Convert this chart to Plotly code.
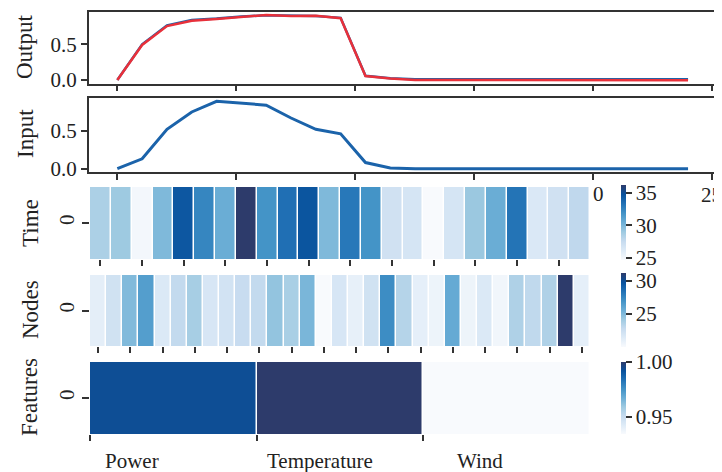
import plotly.graph_objects as go

# ---------------- data ----------------
step_x = [0.0, 1.043, 2.087, 3.13, 4.174, 5.217, 6.261, 7.304, 8.348, 9.391, 10.435, 11.478,
          12.522, 13.565, 14.609, 15.652, 16.696, 17.739, 18.783, 19.826, 20.87, 21.913, 22.957, 24.0]
output_blue = [0.0, 0.50, 0.765, 0.84, 0.86, 0.89, 0.905, 0.90, 0.895, 0.87, 0.06, 0.025,
               0.01, 0.01, 0.01, 0.01, 0.01, 0.01, 0.01, 0.01, 0.01, 0.01, 0.01, 0.01]
output_red = [0.0, 0.49, 0.755, 0.83, 0.855, 0.887, 0.91, 0.896, 0.90, 0.864, 0.056, 0.02,
              0.0, 0.0, 0.0, 0.005, 0.0, 0.0, 0.0, 0.0, 0.0, 0.0, 0.0, -0.005]
input_vals = [0.0, 0.13, 0.52, 0.75, 0.89, 0.87, 0.84, 0.67, 0.52, 0.46, 0.08, 0.01,
              0.0, 0.0, 0.0, 0.0, 0.0, 0.0, 0.0, 0.0, 0.0, 0.0, 0.0, 0.0]

time_vals = [28.5, 29.0, 25.0, 29.9, 34.5, 32.4, 30.5, 36.2, 31.8, 33.4, 34.6, 29.9,
             33.0, 31.8, 27.0, 26.7, 24.7, 26.7, 29.1, 30.5, 33.2, 26.4, 27.0, 27.8]
node_vals = [21.1, 22.2, 25.0, 26.4, 21.6, 22.9, 23.9, 21.8, 22.1, 22.7, 22.9, 24.5, 23.8,
             25.2, 20.0, 21.8, 20.9, 22.2, 27.2, 23.4, 21.0, 20.6, 25.8, 20.6, 21.6, 20.4,
             23.6, 23.0, 23.6, 31.2, 21.0]
feature_names = ["Power", "Temperature", "Wind"]
feature_vals = [0.993, 1.0, 0.934]

line_ticks = [0, 5, 10, 15, 20, 25]
y_ticks = [0.0, 0.5]
y_ticklabels = ["0.0", "0.5"]

# ---------------- style ----------------
OFF = 8  # page body margin
W, H = 722 - OFF, 472 - OFF
FONT = "Liberation Serif"
FS = 21
FT = 23
TXT = "#222222"
AX = "#333333"
BLUE = "#1b63aa"
RED = "#e8303a"
BLUES = [[0.0, "#f8fafd"], [0.125, "#deebf7"], [0.25, "#c6dbef"], [0.375, "#9ecae1"],
         [0.5, "#6baed6"], [0.625, "#4292c6"], [0.75, "#2171b5"], [0.875, "#08519c"],
         [1.0, "#2d3b6b"]]


def px(x):
    return (x - OFF) / W


def py(y):
    return 1 - (y - OFF) / H


def xd(a, b):
    return [px(a), px(b)]


def yd(top, bottom):
    return [py(bottom), py(top)]


fig = go.Figure()

fig.add_trace(go.Scatter(x=step_x, y=output_blue, mode="lines", line=dict(color=BLUE, width=2.5),
                         xaxis="x", yaxis="y", showlegend=False))
fig.add_trace(go.Scatter(x=step_x, y=output_red, mode="lines", line=dict(color=RED, width=2.5),
                         xaxis="x", yaxis="y", showlegend=False))
fig.add_trace(go.Scatter(x=step_x, y=input_vals, mode="lines", line=dict(color=BLUE, width=3),
                         xaxis="x2", yaxis="y2", showlegend=False))


def cbar(top, bottom, tickvals, ticktext):
    return dict(x=px(621), xanchor="left", thickness=5, xpad=0, ypad=0,
                y=py((top + bottom) / 2), yanchor="middle", lenmode="pixels", len=bottom - top,
                outlinewidth=0, ticks="outside", ticklen=6, tickwidth=1.5, tickcolor=AX,
                tickvals=tickvals, ticktext=ticktext,
                tickfont=dict(family=FONT, size=FS, color=TXT))


fig.add_trace(go.Heatmap(z=[time_vals], x=list(range(len(time_vals))), y=[0],
                         colorscale=BLUES, zmin=min(time_vals), zmax=max(time_vals), xgap=1.5,
                         colorbar=cbar(185, 260, [25, 30, 35], ["25", "30", "35"]),
                         xaxis="x3", yaxis="y3", hoverinfo="skip"))
fig.add_trace(go.Heatmap(z=[node_vals], x=list(range(len(node_vals))), y=[0],
                         colorscale=BLUES, zmin=min(node_vals), zmax=max(node_vals), xgap=1.5,
                         colorbar=cbar(273, 347, [25, 30], ["25", "30"]),
                         xaxis="x4", yaxis="y4", hoverinfo="skip"))
fig.add_trace(go.Heatmap(z=[feature_vals], x=[0.5, 1.5, 2.5], y=[0],
                         colorscale=BLUES, zmin=min(feature_vals), zmax=max(feature_vals), xgap=1.5,
                         colorbar=cbar(362, 434, [0.95, 1.0], ["0.95", "1.00"]),
                         xaxis="x5", yaxis="y5", hoverinfo="skip"))

tickfont = dict(family=FONT, size=FS, color=TXT)
line_ax = dict(showline=True, mirror=True, linecolor=AX, linewidth=1.5, ticks="outside",
               ticklen=6, tickwidth=1.5, tickcolor=AX, showgrid=False, zeroline=False,
               tickfont=tickfont, automargin=False)
heat_x = dict(showline=False, ticks="outside", ticklen=6, tickwidth=1.5, tickcolor=AX,
              showgrid=False, zeroline=False, tickfont=tickfont, automargin=False)
heat_y = dict(showline=False, ticks="outside", ticklen=7, tickwidth=1.5, tickcolor=AX,
              showgrid=False, zeroline=False, tickfont=tickfont, tickvals=[0], ticktext=["0"],
              tickangle=-90, range=[-0.5, 0.5], automargin=False)

fig.update_layout(
    width=W, height=H, margin=dict(l=0, r=0, t=0, b=0, autoexpand=False),
    paper_bgcolor="white", plot_bgcolor="white",
    font=dict(family=FONT, size=FS, color=TXT),
    xaxis=dict(line_ax, domain=xd(88.8, 716.6), range=[-1.2, 25.2], tickvals=line_ticks,
               showticklabels=False, anchor="y"),
    yaxis=dict(line_ax, domain=yd(12, 83.5), range=[-0.049, 0.952], tickvals=y_ticks,
               ticktext=y_ticklabels, anchor="x"),
    xaxis2=dict(line_ax, domain=xd(88.8, 716.6), range=[-1.2, 25.2], tickvals=line_ticks,
                showticklabels=False, anchor="y2"),
    yaxis2=dict(line_ax, domain=yd(98, 172), range=[-0.0445, 0.9345], tickvals=y_ticks,
                ticktext=y_ticklabels, anchor="x2"),
    xaxis3=dict(heat_x, domain=xd(90, 590), range=[-0.5, len(time_vals) - 0.5],
                tickvals=list(range(0, len(time_vals), 2)), showticklabels=False, anchor="y3"),
    yaxis3=dict(heat_y, domain=yd(187, 259), anchor="x3"),
    xaxis4=dict(heat_x, domain=xd(90, 590), range=[-0.5, len(node_vals) - 0.5],
                tickvals=list(range(0, len(node_vals), 2)), showticklabels=False, anchor="y4"),
    yaxis4=dict(heat_y, domain=yd(275, 346), anchor="x4"),
    xaxis5=dict(heat_x, domain=xd(90, 590), range=[0, 3], tickvals=[0, 1, 2],
                showticklabels=False, anchor="y5"),
    yaxis5=dict(heat_y, domain=yd(362, 434), anchor="x5"),
)

titles = [("Output", 24, 47), ("Input", 25, 134), ("Time", 30, 223), ("Nodes", 30, 310),
          ("Features", 29, 397)]
for t, tx, ty in titles:
    fig.add_annotation(text=t, x=px(tx), y=py(ty), xref="paper", yref="paper",
                       textangle=-90, showarrow=False, font=dict(family=FONT, size=FT, color=TXT),
                       xanchor="center", yanchor="middle")

# feature labels below the Features heatmap
label_pos = [0.25, 1.38, 2.34]
for name, lx in zip(feature_names, label_pos):
    fig.add_annotation(text=name, x=lx, y=py(461), xref="x5", yref="paper",
                       showarrow=False, font=dict(family=FONT, size=FS, color=TXT),
                       xanchor="center", yanchor="middle")

# visible parts of the Input panel's x tick labels (others hidden behind the heatmap)
fig.add_annotation(text="25", x=25, y=py(195), xref="x2", yref="paper",
                   showarrow=False, font=dict(family=FONT, size=FS, color=TXT),
                   xanchor="center", yanchor="middle")
fig.add_annotation(text="0", x=px(598), y=py(194), xref="paper", yref="paper",
                   showarrow=False, font=dict(family=FONT, size=FS, color=TXT),
                   xanchor="center", yanchor="middle")

fig.write_html("out.html")
